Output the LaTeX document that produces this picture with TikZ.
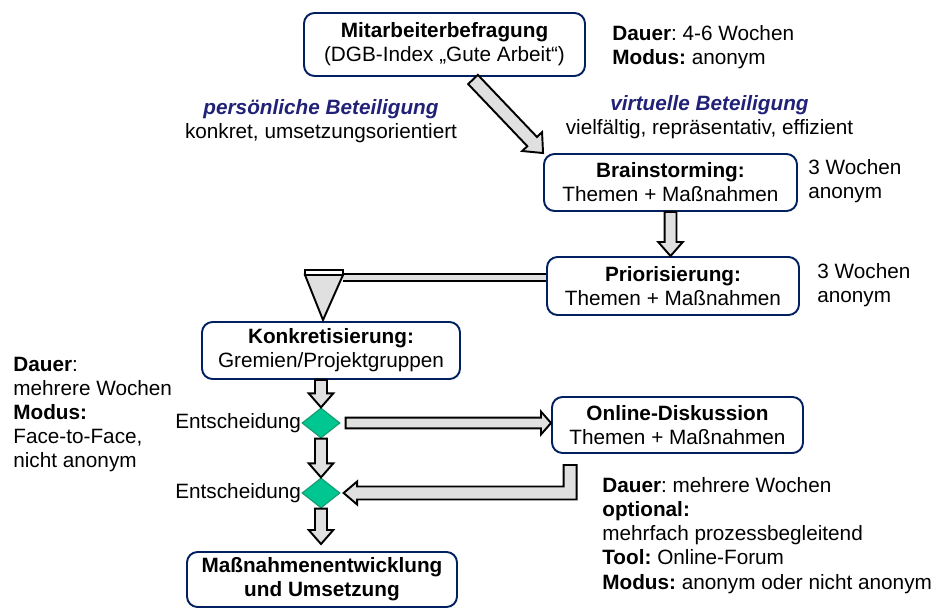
\documentclass[tikz,border=0pt]{standalone}
\usepackage{fontspec}
\setmainfont{Liberation Sans}
\usepackage{tikz}
\usetikzlibrary{positioning,calc,shapes.geometric}
\frenchspacing
\definecolor{boxnavy}{RGB}{0,32,96}
\definecolor{talkblue}{RGB}{33,33,120}
\definecolor{arrowgray}{RGB}{224,224,224}
\definecolor{decgreen}{RGB}{0,198,145}
\definecolor{decedge}{RGB}{20,160,115}
\tikzset{
  blockarrow/.style n args={3}{draw=black, line width=1.1pt, fill=arrowgray, line join=miter,
    to path={($(\tikztostart)!#1!90:(\tikztotarget)$)
      -- ($(\tikztotarget)!#3!(\tikztostart)!#1!90:(\tikztotarget)$)
      -- ($(\tikztotarget)!#3!(\tikztostart)!#2!90:(\tikztotarget)$)
      -- (\tikztotarget)
      -- ($(\tikztotarget)!#3!(\tikztostart)!#2!-90:(\tikztotarget)$)
      -- ($(\tikztotarget)!#3!(\tikztostart)!#1!-90:(\tikztotarget)$)
      -- ($(\tikztostart)!#1!-90:(\tikztotarget)$) -- cycle}}
}
\begin{document}
\begin{tikzpicture}[font=\fontsize{11.8}{13.7}\selectfont,
  stage/.style={draw=boxnavy, line width=1.1pt, rounded corners=6pt, fill=white, align=center, inner sep=2pt},
  note/.style={align=left, inner sep=0pt},
  decision/.style={diamond, draw=decedge, fill=decgreen, line width=0.7pt, inner sep=0pt, minimum width=0.76cm, minimum height=0.6cm},
  feedline/.style={draw=black, double=arrowgray, line width=1.1pt, double distance=3.2pt}]
\useasboundingbox (0,0) rectangle (18.94,12.18);

\node[stage, minimum width=5.62cm, minimum height=1.26cm] (mab) at (8.89,11.29) {\textbf{Mitarbeiterbefragung}\\(DGB-Index „Gute Arbeit“)};
\node[stage, minimum width=5.06cm, minimum height=1.14cm] (brain) at (13.41,8.53) {\textbf{Brainstorming:}\\Themen + Maßnahmen};
\node[stage, minimum width=5.04cm, minimum height=1.16cm] (prio) at (13.46,6.46) {\textbf{Priorisierung:}\\Themen + Maßnahmen};
\node[stage, minimum width=5.16cm, minimum height=1.14cm] (konk) at (6.62,5.17) {\textbf{Konkretisierung:}\\Gremien/Projektgruppen};
\node[stage, minimum width=5.02cm, minimum height=1.12cm] (online) at (13.55,3.68) {\textbf{Online-Diskussion}\\Themen + Maßnahmen};
\node[stage, minimum width=5.4cm, minimum height=1.1cm] (massn) at (6.44,0.59) {\textbf{Maßnahmenentwicklung}\\\textbf{und Umsetzung}};

\node[decision] (d1) at (6.42,3.72) {};
\node[decision] (d2) at (6.42,2.32) {};
\node[note, left=0pt of d1] (e1) {Entscheidung};
\node[note, left=0pt of d2] (e2) {Entscheidung};

% Hinweise
\node[note, anchor=west] (mabinfo) at (12.24,11.24) {\textbf{Dauer}: 4-6 Wochen\\\textbf{Modus:} anonym};
\node[note, align=center] (pers) at (6.42,9.76) {\textcolor{talkblue}{\textbf{\textit{persönliche Beteiligung}}}\\konkret, umsetzungsorientiert};
\node[note, align=center] (virt) at (14.19,9.84) {\textcolor{talkblue}{\textbf{\textit{virtuelle Beteiligung}}}\\vielfältig, repräsentativ, effizient};
\node[note, anchor=west] (braininfo) at (16.16,8.56) {3 Wochen\\anonym};
\node[note, anchor=west] (prioinfo) at (16.34,6.48) {3 Wochen\\anonym};
\node[note, anchor=west] (konkinfo) at (0.26,3.89) {\textbf{Dauer}:\\mehrere Wochen\\\textbf{Modus:}\\Face-to-Face,\\nicht anonym};
\node[note, anchor=west] (onlineinfo) at (12.04,1.47) {\textbf{Dauer}: mehrere Wochen\\\textbf{optional:}\\mehrfach prozessbegleitend\\\textbf{Tool:} Online-Forum\\\textbf{Modus:} anonym oder nicht anonym};

% Pfeile
\coordinate (mabout) at ($(mab.south)+(0.57,-0.05)$);
\draw[blockarrow={3.8pt}{7.8pt}{9pt}] (mabout) to (brain.north west);
\draw[blockarrow={3.4pt}{7pt}{8pt}] (brain.south) to (brain.south |- prio.north);
\draw[blockarrow={3.4pt}{7pt}{8pt}] (konk.south -| d1) to (d1.north);
\draw[blockarrow={3.4pt}{7pt}{8pt}] (d1.south) to (d2.north);
\coordinate (mtop) at ($(massn.north -| d2)+(0,0.14)$);
\draw[blockarrow={3.4pt}{7pt}{8pt}] (d2.south) to (mtop);
\coordinate (hstart) at ($(d1.east)+(0.1,0)$);
\draw[blockarrow={3.1pt}{6.5pt}{5.7pt}] (hstart) to (hstart -| online.west);

% Rueckweg Online-Diskussion
\coordinate (lstart) at ($(online.south west)+(0.38,-0.22)$);
\coordinate (lcorner) at (lstart |- d2);
\coordinate (ltip) at ($(d2.east)+(0.06,0)$);
\draw[draw=black, line width=1.1pt, fill=arrowgray, line join=miter]
  ($(lstart)+(-0.13,0)$) -- ($(lcorner)+(-0.13,0.13)$) -- ($(ltip)+(0.27,0.13)$)
  -- ($(ltip)+(0.27,0.23)$) -- (ltip) -- ($(ltip)+(0.27,-0.23)$) -- ($(ltip)+(0.27,-0.13)$)
  -- ($(lcorner)+(0.13,-0.13)$) -- ($(lstart)+(0.13,0)$) -- cycle;

% Trichter
\coordinate (ftop) at (6.48,6.68);
\coordinate (fjoin) at ($(ftop)+(0.38,-0.05)$);
\draw[feedline] (fjoin) -- (fjoin -| prio.west);
\draw[line width=1.1pt, fill=arrowgray, line join=miter] ($(ftop)+(-0.38,0)$) -- ($(ftop)+(0.38,0)$) -- ($(ftop)+(-0.02,-0.9)$) -- cycle;
\draw[line width=1.6pt, fill=white] ($(ftop)+(-0.38,0)$) rectangle ($(ftop)+(0.38,0.1)$);
\end{tikzpicture}
\end{document}
